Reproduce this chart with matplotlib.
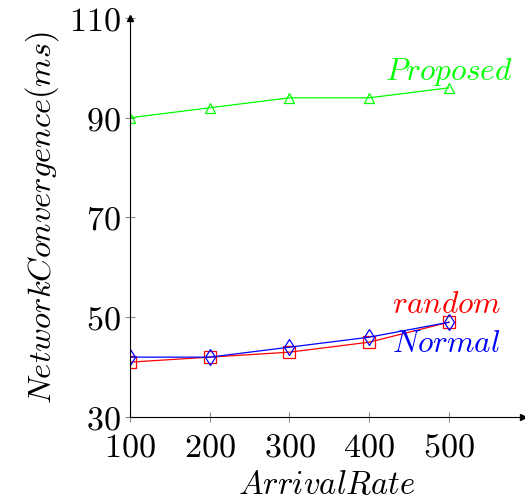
import matplotlib
matplotlib.use("Agg")
from matplotlib import pyplot as plt

# data
ARRIVAL_RATE = [100, 200, 300, 400, 500]
PROPOSED = [90, 92, 94, 94, 96]
RANDOM = [41, 42, 43, 45, 49]
NORMAL = [42, 42, 44, 46, 49]
Y_TICKS = [30, 50, 70, 90, 110]

plt.rcParams.update({
    "mathtext.fontset": "cm",
    "font.family": "serif",
    "font.serif": ["DejaVu Serif"],
    "font.size": 22,
})

fig = plt.figure(figsize=(5.25, 5.03), dpi=100)
ax = fig.add_axes([130 / 525, 1 - 417 / 503, (523 - 130) / 525, (417 - 18) / 503])

ax.plot(ARRIVAL_RATE, PROPOSED, color="#00ff00", lw=0.9, marker="^",
        markersize=7, markerfacecolor="none", markeredgecolor="#00ff00", markeredgewidth=0.9)
ax.plot(ARRIVAL_RATE, RANDOM, color="red", lw=0.9, marker="s",
        markersize=9, markerfacecolor="none", markeredgecolor="red", markeredgewidth=0.9)
ax.plot(ARRIVAL_RATE, NORMAL, color="blue", lw=0.9, marker="d",
        markersize=8, markerfacecolor="none", markeredgecolor="blue", markeredgewidth=0.9)

ax.text(500, 99.2, r"$Proposed$", color="#00ff00", ha="center", va="center", fontsize=22.5)
ax.text(497, 52.6, r"$random$", color="red", ha="center", va="center", fontsize=22.5)
ax.text(497, 44.8, r"$Normal$", color="blue", ha="center", va="center", fontsize=22.5)

ax.set_xlim(100, 593)
ax.set_ylim(30, 110)
ax.set_xticks(ARRIVAL_RATE)
ax.set_xticklabels([f"${v}$" for v in ARRIVAL_RATE])
ax.set_yticks(Y_TICKS)
ax.set_yticklabels([f"${v}$" for v in Y_TICKS])
ax.tick_params(direction="inout", length=7, width=0.8, color="0.55", labelsize=24.5)
ax.tick_params(axis="x", pad=7)
ax.tick_params(axis="y", pad=3)

ax.spines["top"].set_visible(False)
ax.spines["right"].set_visible(False)
ax.spines["left"].set_linewidth(0.8)
ax.spines["bottom"].set_linewidth(0.8)

# arrow heads at the ends of the axis lines
ax.plot(1, 0, ">k", transform=ax.transAxes, clip_on=False, markersize=4)
ax.plot(0, 1, "^k", transform=ax.transAxes, clip_on=False, markersize=4)

ax.set_xlabel(r"$ArrivalRate$", fontsize=23.5, labelpad=4)
ax.set_ylabel(r"$NetworkConvergence(ms)$", fontsize=23.3, labelpad=6)

fig.savefig("out.png", dpi=100)
